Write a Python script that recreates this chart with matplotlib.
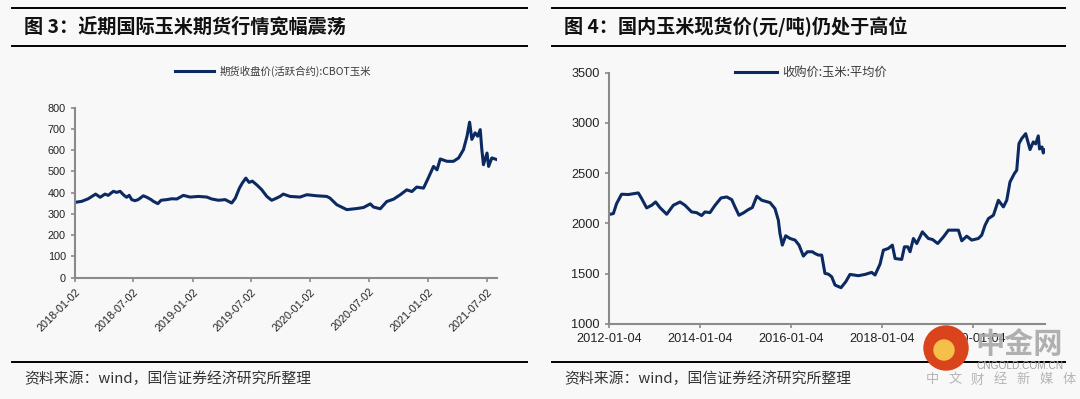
import matplotlib
matplotlib.use('Agg')
import matplotlib.pyplot as plt
import pandas as pd
from matplotlib.lines import Line2D
from matplotlib.patches import Circle

# -------------------------------
# Daten: 图3 CBOT玉米 期货收盘价
# -------------------------------
cbot_dates = [
    '2018-01-02', '2018-01-23', '2018-02-12', '2018-03-07', '2018-03-21', '2018-04-05',
    '2018-04-15', '2018-05-01', '2018-05-11', '2018-05-22', '2018-06-01', '2018-06-11',
    '2018-06-19', '2018-06-27', '2018-07-07', '2018-07-17', '2018-08-02', '2018-08-13',
    '2018-08-26', '2018-09-02', '2018-09-16', '2018-09-26', '2018-10-14', '2018-10-29',
    '2018-11-14', '2018-12-04', '2018-12-25', '2019-01-20', '2019-02-15', '2019-03-02',
    '2019-03-23', '2019-04-13', '2019-05-03', '2019-05-14', '2019-05-27', '2019-06-05',
    '2019-06-16', '2019-06-26', '2019-07-06', '2019-07-20', '2019-08-04', '2019-08-20',
    '2019-09-04', '2019-09-15', '2019-09-30', '2019-10-10', '2019-10-31', '2019-12-01',
    '2019-12-22', '2020-01-22', '2020-02-22', '2020-03-03', '2020-03-24', '2020-04-24',
    '2020-05-25', '2020-06-15', '2020-07-06', '2020-07-16', '2020-08-06', '2020-08-26',
    '2020-09-16', '2020-10-07', '2020-10-27', '2020-11-12', '2020-11-27', '2020-12-18',
    '2021-01-02', '2021-01-18', '2021-01-29', '2021-02-08', '2021-03-01', '2021-03-21',
    '2021-04-06', '2021-04-21', '2021-05-02', '2021-05-10', '2021-05-17', '2021-05-27',
    '2021-06-04', '2021-06-12', '2021-06-17', '2021-06-22', '2021-07-03', '2021-07-08',
    '2021-07-18', '2021-08-03',
]
cbot_values = [
    354, 359, 371, 393, 378, 393,
    387, 406, 401, 406, 390, 378,
    387, 367, 362, 367, 385, 378,
    367, 359, 348, 364, 367, 371,
    370, 387, 379, 382, 379, 370,
    364, 367, 351, 373, 421, 445,
    468, 448, 454, 436, 414, 382,
    364, 371, 382, 393, 382, 379,
    390, 385, 382, 374, 343, 320,
    325, 330, 347, 332, 324, 358,
    369, 390, 413, 405, 426, 421,
    469, 523, 507, 558, 547, 547,
    563, 602, 665, 731, 650, 681,
    665, 696, 602, 531, 586, 523,
    563, 555,
]
cbot_ticks = ['2018-01-02', '2018-07-02', '2019-01-02', '2019-07-02',
              '2020-01-02', '2020-07-02', '2021-01-02', '2021-07-02']

# -------------------------------
# Daten: 图4 收购价:玉米:平均价
# -------------------------------
spot_dates = [
    '2012-01-04', '2012-02-08', '2012-03-05', '2012-04-14', '2012-06-07', '2012-08-26',
    '2012-09-22', '2012-11-01', '2012-12-11', '2013-01-12', '2013-02-16', '2013-04-11',
    '2013-06-03', '2013-07-27', '2013-09-05', '2013-10-28', '2013-12-07', '2014-01-16',
    '2014-02-12', '2014-03-24', '2014-05-04', '2014-06-21', '2014-08-06', '2014-09-15',
    '2014-10-11', '2014-11-12', '2014-12-17', '2015-01-26', '2015-02-27', '2015-04-04',
    '2015-05-14', '2015-07-19', '2015-08-28', '2015-09-24', '2015-10-07', '2015-10-26',
    '2015-11-22', '2015-12-27', '2016-02-05', '2016-03-08', '2016-04-12', '2016-05-14',
    '2016-06-23', '2016-07-14', '2016-08-10', '2016-09-06', '2016-10-02', '2016-10-29',
    '2016-11-25', '2016-12-22', '2017-02-08', '2017-03-18', '2017-04-21', '2017-06-27',
    '2017-08-20', '2017-10-12', '2017-11-08', '2017-12-18', '2018-01-14', '2018-02-23',
    '2018-03-27', '2018-04-18', '2018-06-10', '2018-07-02', '2018-07-29', '2018-08-16',
    '2018-09-12', '2018-10-09', '2018-11-23', '2019-01-10', '2019-02-12', '2019-03-26',
    '2019-05-11', '2019-06-20', '2019-09-08', '2019-10-05', '2019-11-14', '2019-12-24',
    '2020-02-15', '2020-03-13', '2020-04-09', '2020-05-06', '2020-06-15', '2020-07-25',
    '2020-09-03', '2020-09-30', '2020-10-26', '2020-11-30', '2020-12-19', '2021-01-06',
    '2021-01-28', '2021-03-01', '2021-04-05', '2021-05-01', '2021-05-20', '2021-06-10',
    '2021-06-20', '2021-07-10', '2021-07-20', '2021-08-03',
]
spot_values = [
    2088, 2098, 2197, 2290, 2287, 2303,
    2247, 2154, 2180, 2213, 2157, 2091,
    2180, 2213, 2180, 2114, 2107, 2078,
    2114, 2107, 2180, 2253, 2263, 2236,
    2164, 2081, 2104, 2137, 2157, 2270,
    2230, 2207, 2147, 2032, 1900, 1784,
    1877, 1850, 1834, 1784, 1675, 1718,
    1718, 1701, 1685, 1685, 1503, 1496,
    1470, 1387, 1361, 1420, 1493, 1480,
    1493, 1513, 1487, 1595, 1734, 1751,
    1784, 1651, 1642, 1767, 1767, 1718,
    1850, 1800, 1916, 1850, 1840, 1800,
    1866, 1933, 1933, 1827, 1873, 1834,
    1850, 1883, 1982, 2048, 2081, 2230,
    2164, 2230, 2412, 2495, 2528, 2793,
    2843, 2892, 2734, 2810, 2790, 2870,
    2740, 2760, 2700, 2730,
]
spot_ticks = ['2012-01-04', '2014-01-04', '2016-01-04', '2018-01-04', '2020-01-04']

# -------------------------------
# Stil
# -------------------------------
BG = '#f8f8f8'
LINE = '#0c2a62'
AXIS = '#8a8a8a'
CJK = ['Noto Sans CJK SC', 'DejaVu Sans']
NUM = ['Liberation Sans', 'DejaVu Sans']
W, H = 1080, 399

fig = plt.figure(figsize=(W / 100, H / 100), dpi=100, facecolor=BG)


def fx(x):
    return x / W


def fy(y):
    return 1 - y / H


def rule(x0, x1, y, lw=1.4):
    fig.add_artist(Line2D([fx(x0), fx(x1)], [fy(y), fy(y)], color='black', lw=lw))


def style_axes(ax):
    ax.set_facecolor('none')
    for s in ['top', 'right']:
        ax.spines[s].set_visible(False)
    for s in ['left', 'bottom']:
        ax.spines[s].set_color(AXIS)
        ax.spines[s].set_linewidth(1.5)
    ax.tick_params(direction='out', length=3, width=1.2, color=AXIS, labelcolor='#222222')


# Kopf- und Fusslinien
for x0, x1 in [(12, 527), (552, 1065)]:
    rule(x0, x1, 8.3)
    rule(x0, x1, 45.7)
    rule(x0, x1, 361.7)

fig.text(fx(24), fy(27), '图 3：近期国际玉米期货行情宽幅震荡', fontsize=13.8,
         fontweight='bold', va='center', family=CJK, color='#111111')
fig.text(fx(564), fy(27), '图 4：国内玉米现货价(元/吨)仍处于高位', fontsize=13.8,
         fontweight='bold', va='center', family=CJK, color='#111111')
for x in [24, 564]:
    fig.text(fx(x), fy(379), '资料来源：wind，国信证券经济研究所整理', fontsize=10.7,
             va='center', family=CJK, color='#333333')

# -------------------------------
# Linkes Diagramm
# -------------------------------
ax1 = fig.add_axes([fx(75), fy(277.7), (497 - 75) / W, (277.7 - 107.5) / H])
style_axes(ax1)
ax1.plot(pd.to_datetime(cbot_dates), cbot_values, color=LINE, lw=2.2,
         label='期货收盘价(活跃合约):CBOT玉米')
ax1.set_ylim(0, 800)
ax1.set_yticks(range(0, 801, 100))
ax1.set_xlim(pd.Timestamp('2018-01-02'), pd.Timestamp('2021-08-03'))
ax1.set_xticks(pd.to_datetime(cbot_ticks))
ax1.set_xticklabels(cbot_ticks, rotation=45, ha='right', rotation_mode='anchor')
for lab in ax1.get_xticklabels() + ax1.get_yticklabels():
    lab.set_family(NUM)
    lab.set_fontsize(7.8)
ax1.legend(loc='center', bbox_to_anchor=(fx(273), fy(71)), bbox_transform=fig.transFigure,
           frameon=False, handlelength=3.8, handletextpad=0.55,
           prop={'family': CJK, 'size': 7.5}, labelcolor='#3a3a3a')

# -------------------------------
# Rechtes Diagramm
# -------------------------------
ax2 = fig.add_axes([fx(609), fy(324), (1045 - 609) / W, (324 - 72.5) / H])
style_axes(ax2)
ax2.plot(pd.to_datetime(spot_dates), spot_values, color=LINE, lw=2.2,
         label='收购价:玉米:平均价')
ax2.set_ylim(1000, 3500)
ax2.set_yticks(range(1000, 3501, 500))
ax2.set_xlim(pd.Timestamp('2012-01-04'), pd.Timestamp('2021-08-03'))
ax2.set_xticks(pd.to_datetime(spot_ticks))
ax2.set_xticklabels(spot_ticks)
for lab in ax2.get_xticklabels() + ax2.get_yticklabels():
    lab.set_family(NUM)
    lab.set_fontsize(9.2)
ax2.legend(loc='center', bbox_to_anchor=(fx(811), fy(72.7)), bbox_transform=fig.transFigure,
           frameon=False, handlelength=3.4, handletextpad=0.45,
           prop={'family': CJK, 'size': 8.8}, labelcolor='#3a3a3a')

# -------------------------------
# Wasserzeichen
# -------------------------------
fig.add_artist(Circle((9.46, fy(348) * H / 100), 0.22, transform=fig.dpi_scale_trans,
                      color='#d9441c', zorder=5))
fig.add_artist(Circle((9.44, fy(350) * H / 100), 0.10, transform=fig.dpi_scale_trans,
                      color='#f4c04a', zorder=6))
fig.text(fx(1019), fy(344), '中金网', fontsize=21, fontweight='bold', ha='center',
         va='center', family=CJK, color='#a9a9a9', alpha=0.9, zorder=6)
fig.text(fx(1020), fy(366), 'CNGOLD.COM.CN', fontsize=7.3, ha='center', va='center',
         family=NUM, color='#a0a0a0', zorder=6)
for i, ch in enumerate('中文财经新媒体'):
    fig.text(fx(932 + i * 22.8), fy(380), ch, fontsize=9.5, ha='center', va='center',
             family=CJK, color='#b5b5b5', zorder=6)

fig.savefig('out.png', dpi=100, facecolor=BG)
